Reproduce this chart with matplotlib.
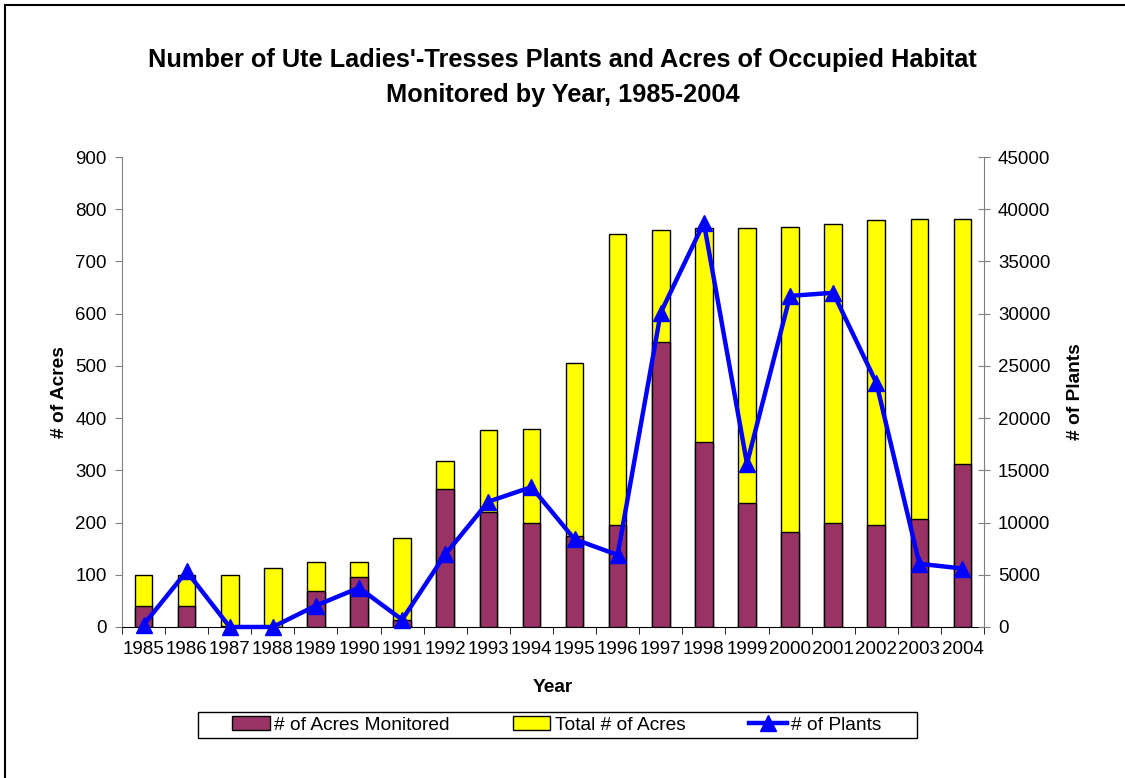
import matplotlib.pyplot as plt
import numpy as np
from matplotlib.patches import Rectangle
from matplotlib.lines import Line2D
from matplotlib.patches import Patch

plt.rcParams['font.family'] = ['Liberation Sans', 'DejaVu Sans']

years = ['1985', '1986', '1987', '1988', '1989', '1990', '1991', '1992', '1993', '1994',
         '1995', '1996', '1997', '1998', '1999', '2000', '2001', '2002', '2003', '2004']
total_acres = [100, 100, 100, 113, 124, 124, 170, 317, 378, 380,
               505, 753, 760, 764, 764, 766, 771, 780, 782, 782]
monitored_acres = [40, 40, 2, 0, 68, 95, 13, 265, 220, 200,
                   175, 196, 545, 355, 238, 182, 200, 196, 206, 312]
plants = [200, 5330, 0, 0, 2050, 3750, 700, 6950, 12000, 13400,
          8400, 6900, 30100, 38700, 15650, 31700, 32000, 23400, 6050, 5600]

purple = '#993366'
yellow = '#FFFF00'
blue = '#0000FF'

fig = plt.figure(figsize = (11.25, 7.78), dpi = 100)
ax = fig.add_axes([0.1084, 0.1941, 0.7663, 0.6041])

x = np.arange(len(years))
ax.bar(x, total_acres, width = 0.41, color = yellow, edgecolor = 'black', linewidth = 1, zorder = 2)
ax.bar(x, monitored_acres, width = 0.41, color = purple, edgecolor = 'black', linewidth = 1, zorder = 3)

ax.set_xlim(-0.5, len(years) - 0.5)
ax.set_ylim(0, 900)
ax.set_yticks(np.arange(0, 901, 100))
ax.set_xticks(x)
ax.set_xticklabels(years)
ax.set_xticks(np.arange(-0.5, len(years), 1), minor = True)
ax.tick_params(axis = 'x', which = 'major', length = 0, labelsize = 13.5, pad = 10)
ax.tick_params(axis = 'x', which = 'minor', length = 5, color = 'black', direction = 'out')
ax.tick_params(axis = 'y', labelsize = 13.5, length = 5, color = '#808080', pad = 6)

ax.spines['top'].set_visible(False)
ax.spines['right'].set_visible(False)
ax.spines['left'].set_color('#808080')
ax.spines['bottom'].set_color('black')

ax2 = ax.twinx()
ax2.plot(x, plants, color = blue, linewidth = 3.2, marker = '^', markersize = 12, zorder = 5, clip_on = False)
ax2.set_ylim(0, 45000)
ax2.set_yticks(np.arange(0, 45001, 5000))
ax2.tick_params(axis = 'y', labelsize = 13.5, length = 8, color = '#808080', direction = 'inout', pad = 6)
ax2.spines['top'].set_visible(False)
ax2.spines['left'].set_visible(False)
ax2.spines['bottom'].set_visible(False)
ax2.spines['right'].set_color('#808080')

fig.text(0.5, 1 - 60 / 778, "Number of Ute Ladies'-Tresses Plants and Acres of Occupied Habitat",
         ha = 'center', va = 'center', fontsize = 18.3, weight = 'bold')
fig.text(0.5, 1 - 95 / 778, "Monitored by Year, 1985-2004",
         ha = 'center', va = 'center', fontsize = 18.3, weight = 'bold')

fig.text(60 / 1125, 1 - 392 / 778, '# of Acres', rotation = 90, ha = 'center', va = 'center', fontsize = 13.8, weight = 'bold')
fig.text(1075 / 1125, 1 - 392 / 778, '# of Plants', rotation = 90, ha = 'center', va = 'center', fontsize = 13.8, weight = 'bold')
fig.text(553 / 1125, 1 - 688 / 778, 'Year', ha = 'center', va = 'center', fontsize = 13.8, weight = 'bold')

handles = [Patch(facecolor = purple, edgecolor = 'black'),
           Patch(facecolor = yellow, edgecolor = 'black'),
           Line2D([], [], color = blue, linewidth = 3.2, marker = '^', markersize = 12)]
labels = ['# of Acres Monitored', 'Total # of Acres', '# of Plants']
leg = fig.legend(handles, labels, loc = 'center', bbox_to_anchor = (557 / 1125, 1 - 725 / 778), ncol = 3,
                 fontsize = 13.8, frameon = False, columnspacing = 3.3, handlelength = 1.95,
                 handletextpad = 0.25, handleheight = 0.7)

fig.patches.append(Rectangle((198 / 1125, 1 - 738 / 778), 719 / 1125, 26 / 778, transform = fig.transFigure,
                             fill = False, edgecolor = 'black', linewidth = 1))

fig.patches.append(Rectangle((5 / 1125, -0.1), 1.2, 1 - 5 / 778 + 0.1, transform = fig.transFigure,
                             fill = False, edgecolor = 'black', linewidth = 1.5))

plt.savefig('out.png', dpi = 100)
